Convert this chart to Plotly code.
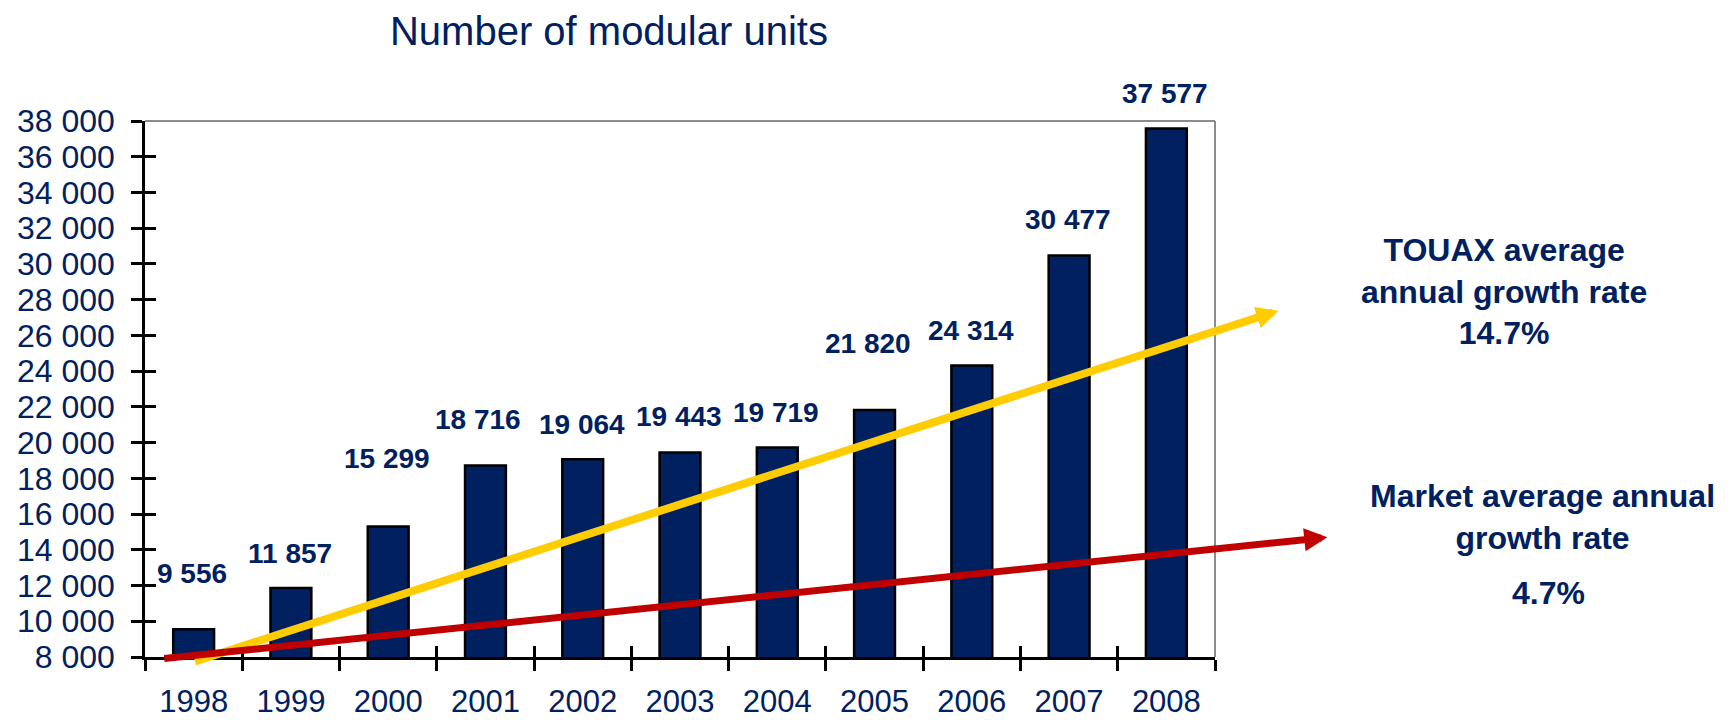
import plotly.graph_objects as go

# ---- data ----
YEARS = ["1998", "1999", "2000", "2001", "2002", "2003", "2004", "2005", "2006", "2007", "2008"]
UNITS = [9556, 11857, 15299, 18716, 19064, 19443, 19719, 21820, 24314, 30477, 37577]
Y_MIN, Y_MAX, Y_STEP = 8000, 38000, 2000
TITLE = "Number of modular units"
TOUAX_TEXT = ["TOUAX average", "annual growth rate", "14.7%"]
MARKET_TEXT = ["Market average annual", "growth rate"]
MARKET_RATE = "4.7%"

# ---- styling ----
NAVY = "#002060"
FONT = "Liberation Sans, Arial, sans-serif"
LABEL_DY_PX = [56, 35, 68, 46, 35, 36, 35, 67, 35, 36, 35]
LABEL_DX_PX = [-2, -1, -1, -7, -1, -1, -1, -7, -1, -1, -1]

# page body has an 8px default margin: figure sized so it fits the 1733x720 window
FIG_W, FIG_H = 1717, 712

fig = go.Figure()
fig.add_trace(go.Bar(
    x=YEARS, y=UNITS, width=0.42,
    marker=dict(color=NAVY, line=dict(color="black", width=2.5)),
    hoverinfo="skip", showlegend=False,
))
# invisible companion trace so the overlay axes (inner half of crossing ticks) are drawn
fig.add_trace(go.Scatter(
    x=list(range(len(YEARS))), y=UNITS, xaxis="x2", yaxis="y2",
    mode="markers", marker=dict(opacity=0), hoverinfo="skip", showlegend=False,
))

annotations = []
for i, (v, dy, dx) in enumerate(zip(UNITS, LABEL_DY_PX, LABEL_DX_PX)):
    annotations.append(dict(
        x=i, y=v, xref="x", yref="y", text=f"{v:,}".replace(",", " "),
        showarrow=False, yshift=dy, xshift=dx, xanchor="center", yanchor="middle",
        font=dict(family=FONT, size=28, color=NAVY, weight="bold"),
    ))

# trend arrows (decorative)
annotations.append(dict(
    xref="paper", yref="paper", x=1.0592, y=0.6461, ax=-1084.8, ay=351.3, text="",
    showarrow=True, arrowhead=2, arrowwidth=8, arrowsize=0.55, arrowcolor="#FFCC00",
    standoff=0, startstandoff=0, font=dict(size=1),
))
annotations.append(dict(
    xref="paper", yref="paper", x=1.1050, y=0.2233, ax=-1164.6, ay=121.4, text="",
    showarrow=True, arrowhead=2, arrowwidth=7, arrowsize=0.66, arrowcolor="#C00000",
    standoff=0, startstandoff=0, font=dict(size=1),
))

annotations.append(dict(
    xref="paper", yref="paper", x=1.270, y=0.682, xanchor="center", yanchor="middle",
    text="<br>".join(TOUAX_TEXT), showarrow=False, align="center",
    font=dict(family=FONT, size=32, color=NAVY, weight="bold"),
))
annotations.append(dict(
    xref="paper", yref="paper", x=1.3065, y=0.261, xanchor="center", yanchor="middle",
    text="<br>".join(MARKET_TEXT), showarrow=False, align="center",
    font=dict(family=FONT, size=32, color=NAVY, weight="bold"),
))
annotations.append(dict(
    xref="paper", yref="paper", x=1.3118, y=0.1203, xanchor="center", yanchor="middle",
    text=MARKET_RATE, showarrow=False,
    font=dict(family=FONT, size=32, color=NAVY, weight="bold"),
))

shapes = [
    dict(type="line", xref="paper", yref="paper", x0=0, x1=1, y0=1, y1=1,
         line=dict(color="#8c8c8c", width=2), layer="below"),
    dict(type="line", xref="paper", yref="paper", x0=1, x1=1, y0=0, y1=1,
         line=dict(color="#8c8c8c", width=2), layer="below"),
]

fig.update_layout(
    width=FIG_W, height=FIG_H,
    margin=dict(l=137, r=510, t=113, b=63, autoexpand=False),
    paper_bgcolor="white", plot_bgcolor="white",
    separators=". ",
    title=dict(text=TITLE, x=0.4336, xref="paper", xanchor="center",
               y=1 - 23 / FIG_H, yref="container", yanchor="middle", automargin=False,
               font=dict(family=FONT, size=40, color=NAVY)),
    font=dict(family=FONT, color=NAVY),
    xaxis=dict(
        type="category", categoryorder="array", categoryarray=YEARS,
        range=[-0.5, len(YEARS) - 0.5], automargin=False,
        showline=True, linecolor="black", linewidth=2.5,
        ticks="outside", ticklen=11, tickwidth=2.5, tickcolor="black",
        tickson="boundaries", showgrid=False, zeroline=False,
        tickfont=dict(family=FONT, size=31, color=NAVY), ticklabelstandoff=15,
    ),
    yaxis=dict(
        range=[Y_MIN, Y_MAX], dtick=Y_STEP, tick0=Y_MIN, tickformat=",d", automargin=False,
        showline=True, linecolor="black", linewidth=2.5,
        ticks="outside", ticklen=11, tickwidth=2.5, tickcolor="black",
        showgrid=False, zeroline=False,
        tickfont=dict(family=FONT, size=32, color=NAVY), ticklabelstandoff=10,
    ),
    xaxis2=dict(
        overlaying="x", anchor="y", side="bottom", range=[-0.5, len(YEARS) - 0.5], automargin=False,
        tick0=-0.5, dtick=1, ticks="inside", ticklen=11, tickwidth=2.5, tickcolor="black",
        showticklabels=False, showgrid=False, zeroline=False, showline=False,
    ),
    yaxis2=dict(
        overlaying="y", anchor="x", side="left", range=[Y_MIN, Y_MAX], automargin=False,
        tick0=Y_MIN, dtick=Y_STEP, ticks="inside", ticklen=11, tickwidth=2.5, tickcolor="black",
        showticklabels=False, showgrid=False, zeroline=False, showline=False,
    ),
    annotations=annotations,
    shapes=shapes,
)

fig.write_html("out.html")
